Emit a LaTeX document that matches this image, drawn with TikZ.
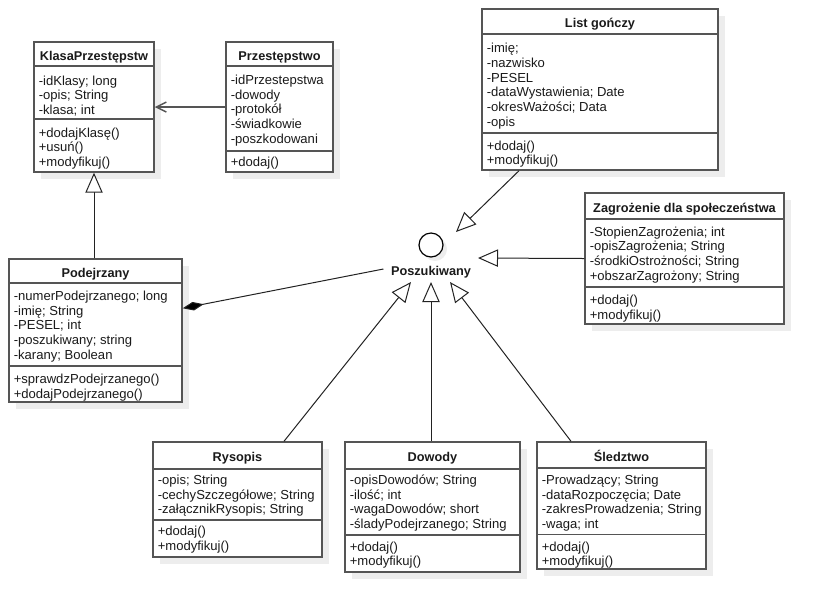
\documentclass[tikz,border=0pt]{standalone}
\usepackage{fontspec}
\setmainfont{Liberation Sans}
\usetikzlibrary{arrows.meta,fit,shadows,calc}
\definecolor{boxline}{HTML}{555555}
\definecolor{txt}{HTML}{1a1a1a}
\definecolor{conncol}{HTML}{222222}
% name, x of text, baseline of first line, list of lines
\newcommand\umllines[4]{%
  \foreach \t [count=\i from 0] in {#4} {\node[line] (#1-\i) at (#2,{#3+2+\i*14.7}) {\t};}}
\begin{document}
\begin{tikzpicture}[x=0.75pt,y=-0.75pt,
  cls/.style={draw=boxline, line width=1.1pt, fill=white, inner sep=0pt,
    drop shadow={shadow xshift=5pt, shadow yshift=-5pt, fill=black!7, opacity=1}},
  sepline/.style={draw=boxline, line width=1.1pt},
  title/.style={font=\fontsize{9.55}{11}\selectfont\bfseries, text=txt, inner sep=0pt,
    text height=6.6pt, text depth=0pt, anchor=center, yshift=-1.5pt},
  line/.style={anchor=base west, inner sep=0pt, font=\fontsize{9.8}{11}\selectfont, text=txt},
  conn/.style={draw=conncol, line width=0.75pt},
  gen/.style={conn, -{Triangle[open, length=15pt, width=13pt, fill=white]}},
  dep/.style={draw=boxline, line width=1.1pt, -{Straight Barb[length=7.5pt, width=7.5pt]}},
  comp/.style={conn, -{Diamond[length=16pt, width=6.5pt, fill=black]}}
]
\useasboundingbox (0,0) rectangle (823,612);

% ---------- KlasaPrzestepstw
\node[cls, fit={(34,42) (154,172)}] (klasa) {};
\draw[sepline] (klasa.west |- 0,66) -- (klasa.east |- 0,66);
\draw[sepline] (klasa.west |- 0,119) -- (klasa.east |- 0,119);
\node[title] (klasa-t) at (94,54) {KlasaPrzestępstw};
\umllines{klasa-a}{38.5}{83}{-idKlasy; long,-opis; String,-klasa; int}
\umllines{klasa-m}{38.5}{135}{+dodajKlasę(),+usuń(),+modyfikuj()}

% ---------- Przestepstwo
\node[cls, fit={(226,42) (333,172)}] (przest) {};
\draw[sepline] (przest.west |- 0,66) -- (przest.east |- 0,66);
\draw[sepline] (przest.west |- 0,151) -- (przest.east |- 0,151);
\node[title] (przest-t) at (279.5,54) {Przestępstwo};
\umllines{przest-a}{230.5}{82.3}{-idPrzestepstwa,-dowody,-protokół,-świadkowie,-poszkodowani}
\umllines{przest-m}{230.5}{164}{+dodaj()}

% ---------- List gonczy
\node[cls, fit={(482,9) (718,170)}] (list) {};
\draw[sepline] (list.west |- 0,34) -- (list.east |- 0,34);
\draw[sepline] (list.west |- 0,133) -- (list.east |- 0,133);
\node[title] (list-t) at (600,21.5) {List gończy};
\umllines{list-a}{486.5}{50.7}{-imię;,-nazwisko,-PESEL,-dataWystawienia; Date,-okresWażości; Data,-opis}
\umllines{list-m}{486.5}{148}{+dodaj(),+modyfikuj()}

% ---------- Podejrzany
\node[cls, fit={(9,259) (182,402)}] (podej) {};
\draw[sepline] (podej.west |- 0,283) -- (podej.east |- 0,283);
\draw[sepline] (podej.west |- 0,366) -- (podej.east |- 0,366);
\node[title] (podej-t) at (95.5,271) {Podejrzany};
\umllines{podej-a}{13.5}{298.3}{-numerPodejrzanego; long,-imię; String,-PESEL; int,-poszukiwany; string,-karany; Boolean}
\umllines{podej-m}{13.5}{381.5}{+sprawdzPodejrzanego(),+dodajPodejrzanego()}

% ---------- Zagrozenie
\node[cls, fit={(585,193) (784,324)}] (zagro) {};
\draw[sepline] (zagro.west |- 0,219) -- (zagro.east |- 0,219);
\draw[sepline] (zagro.west |- 0,287) -- (zagro.east |- 0,287);
\node[title] (zagro-t) at (684.5,206) {Zagrożenie dla społeczeństwa};
\umllines{zagro-a}{589.5}{234}{-StopienZagrożenia; int,-opisZagrożenia; String,-środkiOstrożności; String,+obszarZagrożony; String}
\umllines{zagro-m}{589.5}{302.3}{+dodaj(),+modyfikuj()}

% ---------- Rysopis
\node[cls, fit={(153,442) (322,557)}] (rys) {};
\draw[sepline] (rys.west |- 0,469) -- (rys.east |- 0,469);
\draw[sepline] (rys.west |- 0,520) -- (rys.east |- 0,520);
\node[title] (rys-t) at (237.5,455.5) {Rysopis};
\umllines{rys-a}{157.5}{482.3}{-opis; String,-cechySzczegółowe; String,-załącznikRysopis; String}
\umllines{rys-m}{157.5}{533.5}{+dodaj(),+modyfikuj()}

% ---------- Dowody
\node[cls, fit={(345,442) (520,572)}] (dow) {};
\draw[sepline] (dow.west |- 0,469) -- (dow.east |- 0,469);
\draw[sepline] (dow.west |- 0,535) -- (dow.east |- 0,535);
\node[title] (dow-t) at (432.5,455.5) {Dowody};
\umllines{dow-a}{349.5}{482.3}{-opisDowodów; String,-ilość; int,-wagaDowodów; short,-śladyPodejrzanego; String}
\umllines{dow-m}{349.5}{549}{+dodaj(),+modyfikuj()}

% ---------- Sledztwo
\node[cls, fit={(537,442) (706,569)}] (sled) {};
\draw[sepline] (sled.west |- 0,468) -- (sled.east |- 0,468);
\draw[sepline] (sled.west |- 0,534.5) -- (sled.east |- 0,534.5);
\node[title] (sled-t) at (621.5,455) {Śledztwo};
\umllines{sled-a}{541.5}{482.3}{-Prowadzący; String,-dataRozpoczęcia; Date,-zakresProwadzenia; String,-waga; int}
\umllines{sled-m}{541.5}{549}{+dodaj(),+modyfikuj()}

% ---------- Interface Poszukiwany
\node[circle, draw=black, line width=0.9pt, fill=white, minimum size=18pt, inner sep=0pt,
  drop shadow={shadow xshift=3pt, shadow yshift=-3pt, fill=black!7, opacity=1}] (circ) at (431,245) {};
\node[title, inner xsep=4pt] (posz) at (431,269) {Poszukiwany};

\coordinate (tList) at (456,232);
\coordinate (tZag) at (478,258);
\coordinate (tRys) at (411,282);
\coordinate (tDow) at (431,282);
\coordinate (tSle) at (450,282);

% ---------- Connectors
\draw[dep] (przest.west) -- (klasa.east);
\draw[gen] (podej.north -| klasa.south) -- (klasa.south);
\draw[comp] ($(posz.west)+(-2,-2)$) -- ($(podej.north east)+(0,50)$);
\draw[gen] (list.south -| 519,0) -- (tList);
\draw[gen] (zagro.west) -- (tZag);
\draw[gen] (rys.north -| 284,0) -- (tRys);
\draw[gen] (dow.north -| 431,0) -- (tDow);
\draw[gen] (sled.north -| 571,0) -- (tSle);
\end{tikzpicture}
\end{document}
